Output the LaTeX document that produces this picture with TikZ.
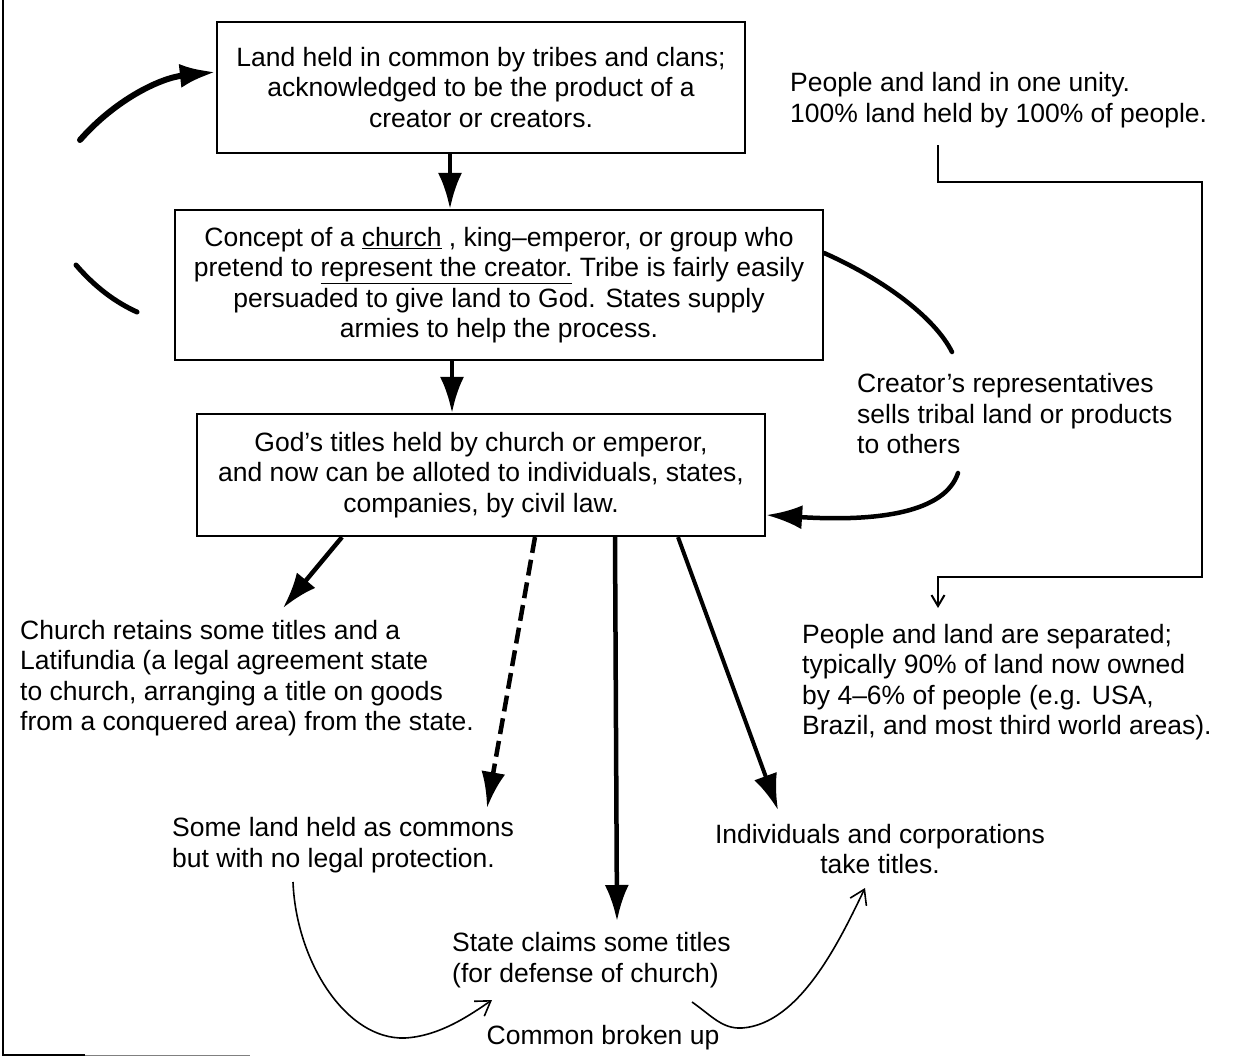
\documentclass[tikz,border=0pt]{standalone}
\usepackage{fontspec}
\setmainfont{Liberation Sans}
\usetikzlibrary{arrows.meta}
\begin{document}
\begin{tikzpicture}[x=1pt,y=-1pt,
  txt/.style={font=\fontsize{26.5}{30.5}\selectfont, inner sep=0pt},
  box/.style={draw, line width=2.2pt, align=center, txt},
  heavy/.style={line width=4.5pt, -{Latex[length=36pt,width=24pt]}},
  thinarr/.style={line width=1.6pt, -{Straight Barb[length=14pt,width=18pt]}},
  elbow/.style={line width=2pt, -{Straight Barb[length=11pt,width=13pt]}}
]
\useasboundingbox (0,0) rectangle (1243,1058);

% frame remnants
\draw[line width=2pt] (3,0) -- (3,1055) -- (85,1055);
\draw[line width=1pt, gray] (85,1055) -- (250,1055);

% boxes
\node[box, minimum width=528pt, minimum height=131pt] (b1) at (481,87.5)
  {Land held in common by tribes and clans;\\ acknowledged to be the product of a\\ creator or creators.};
\node[box, minimum width=648pt, minimum height=150pt] (b2) at (499,285)
  {Concept of a \underline{church} , king--emperor, or group who\\ pretend to \underline{represent the creator.} Tribe is fairly easily\\ persuaded to give land to God. States supply\\ armies to help the process.};
\node[box, minimum width=568pt, minimum height=122pt] (b3) at (481,475)
  {God's titles held by church or emperor,\\ and now can be alloted to individuals, states,\\ companies, by civil law.};

% free texts
\node[txt, anchor=west, align=left] (unity) at (790,100)
  {People and land in one unity.\\ 100\% land held by 100\% of people.};
\node[txt, anchor=west, align=left] (cre) at (857,414)
  {Creator's representatives\\ sells tribal land or products\\ to others};
\node[txt, anchor=west, align=left] (sep) at (802,682)
  {People and land are separated;\\ typically 90\% of land now owned\\ by 4--6\% of people (e.g. USA,\\ Brazil, and most third world areas).};
\node[txt, anchor=west, align=left] (church) at (20,678)
  {Church retains some titles and a\\ Latifundia (a legal agreement state\\ to church, arranging a title on goods\\ from a conquered area) from the state.};
\node[txt, anchor=west, align=left] (commons) at (172,845)
  {Some land held as commons\\ but with no legal protection.};
\node[txt, align=center] (indiv) at (880,849)
  {Individuals and corporations\\ take titles.};
\node[txt, anchor=west, align=left] (state) at (452,960)
  {State claims some titles\\ (for defense of church)};
\node[txt] (broken) at (603,1038) {Common broken up};

% coordinates
\coordinate (la1) at (80,140);
\coordinate (la2) at (76,265);
\coordinate (la3) at (137,312);
\coordinate (c1) at (952,352);
\coordinate (c2) at (958,473);
\coordinate (t1) at (283,608);
\coordinate (t2) at (487,808);
\coordinate (t3) at (617,921);
\coordinate (t4) at (778,810);
\coordinate (s1) at (293,882);
\coordinate (s2) at (492,1000);
\coordinate (s3) at (692,1002);
\coordinate (s4) at (865,888);
\coordinate (e1) at (938,145);
\coordinate (e2) at (938,608);

% main vertical arrows
\draw[heavy] ([xshift=-31pt]b1.south) -- ([xshift=-49pt]b2.north);
\draw[heavy] ([xshift=-47pt]b2.south) -- ([xshift=-29pt]b3.north);

% left cycle arcs
\draw[heavy, line width=6pt, line cap=round] (la1) .. controls (115,100) and (160,78) .. ([yshift=15.5pt]b1.west);
\draw[line width=5pt, line cap=round] (la2) .. controls (95,287) and (115,302) .. (la3);

% right arcs
\draw[line width=4.5pt, line cap=round] ([yshift=32pt]b2.east) .. controls (885,280) and (935,318) .. (c1);
\draw[heavy, line cap=round] (c2) .. controls (945,512) and (880,522) .. ([yshift=-40pt]b3.east);

% elbow
\draw[elbow] (e1) -- (938,182) -- (1202,182) -- (1202,577) -- (938,577) -- (e2);

% arrows from box 3
\draw[heavy] ([xshift=-139pt]b3.south) -- (t1);
\draw[heavy, dash pattern=on 16pt off 7pt] ([xshift=54pt]b3.south) -- (t2);
\draw[heavy] ([xshift=134pt]b3.south) -- (t3);
\draw[heavy, line width=4pt] ([xshift=197pt]b3.south) -- (t4);

% thin curves
\draw[thinarr] (s1) .. controls (296,960) and (345,1040) .. (405,1038) .. controls (440,1036) and (470,1015) .. (s2);
\draw[thinarr] (s3) .. controls (712,1016) and (722,1029) .. (742,1028) .. controls (800,1024) and (840,940) .. (s4);
\end{tikzpicture}
\end{document}
